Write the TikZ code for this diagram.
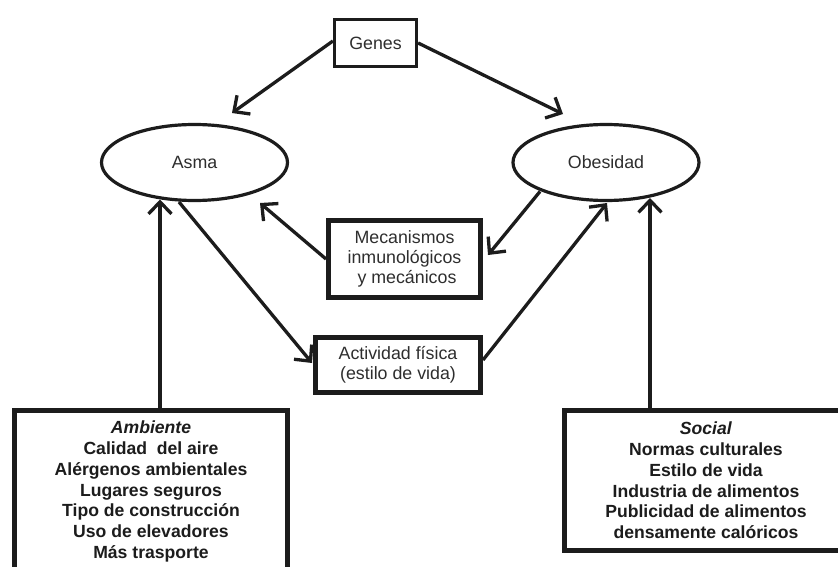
\documentclass[tikz,border=0pt]{standalone}
\usepackage{fontspec}
\setmainfont{Liberation Sans}
\usetikzlibrary{arrows.meta,shapes.geometric}
\definecolor{ink}{HTML}{1C1C1C}
\definecolor{txt}{HTML}{2E2E2E}
\begin{document}
\begin{tikzpicture}[x=1pt,y=-1pt,
  lbl/.style={font=\fontsize{17.8}{20.3}\selectfont, text=txt, align=center, inner sep=0pt},
  thinbox/.style={lbl, draw=ink, line width=3.2pt, rectangle},
  thickbox/.style={lbl, draw=ink, line width=5pt, rectangle},
  bigbox/.style={thickbox, text=ink, font=\fontsize{17.6}{20.8}\selectfont\bfseries},
  oval/.style={lbl, draw=ink, line width=3.2pt, ellipse, minimum width=186pt, minimum height=76pt},
  arr/.style={draw=ink, line width=3.3pt, -{Straight Barb[length=12pt,width=23pt]}},
  link/.style={draw=ink, line width=3.3pt}
]
\useasboundingbox (0,0) rectangle (838,567);
\fill[white] (0,0) rectangle (838,567);

\node[thinbox, minimum width=82pt, minimum height=47pt] (genes) at (375.5,43) {Genes};
\node[oval] (asma) at (194.5,162.5) {Asma};
\node[oval] (obes) at (606,162.5) {Obesidad};
\node[thickbox, minimum width=152pt, minimum height=77pt] (mec) at (404.5,259)
  {Mecanismos\\inmunológicos\\\ y mecánicos};
\node[thickbox, minimum width=165pt, minimum height=55pt] (act) at (398,365)
  {Actividad física\\(estilo de vida)};
\node[bigbox, minimum width=273pt, minimum height=162pt] (amb) at (151,491.5)
  {\textit{Ambiente}\\Calidad~~del aire\\Alérgenos ambientales\\Lugares seguros\\Tipo de construcción\\Uso de elevadores\\Más trasporte};
\node[bigbox, minimum width=283pt, minimum height=140pt] (soc) at (706,480.5)
  {\textit{Social}\\Normas culturales\\Estilo de vida\\Industria de alimentos\\Publicidad de alimentos\\densamente calóricos};

% Genes to both conditions
\draw[arr] ([yshift=2pt]genes.west) -- ([shift={(37.5,-49.5)}]asma.center);
\draw[arr] (genes.east) -- ([shift={(-43,-48.5)}]obes.center);
% mechanisms
\draw[arr] (mec.west) -- ([shift={(65.5,40.5)}]asma.center);
\draw[arr] ([shift={(-66,29)}]obes.center) -- ([shift={(5,-4)}]mec.east);
% physical activity
\draw[arr] ([shift={(-15.5,39.5)}]asma.center) -- ([shift={(-1,-2)}]act.west);
\draw[arr] ([shift={(0,-5)}]act.east) -- ([shift={(1,40.5)}]obes.center);
% environment / social
\draw[arr] ([xshift=9pt]amb.north) -- ([shift={(-34.5,37)}]asma.center);
\draw[arr] ([xshift=-56pt]soc.north) -- ([shift={(44,35.5)}]obes.center);
\end{tikzpicture}
\end{document}
